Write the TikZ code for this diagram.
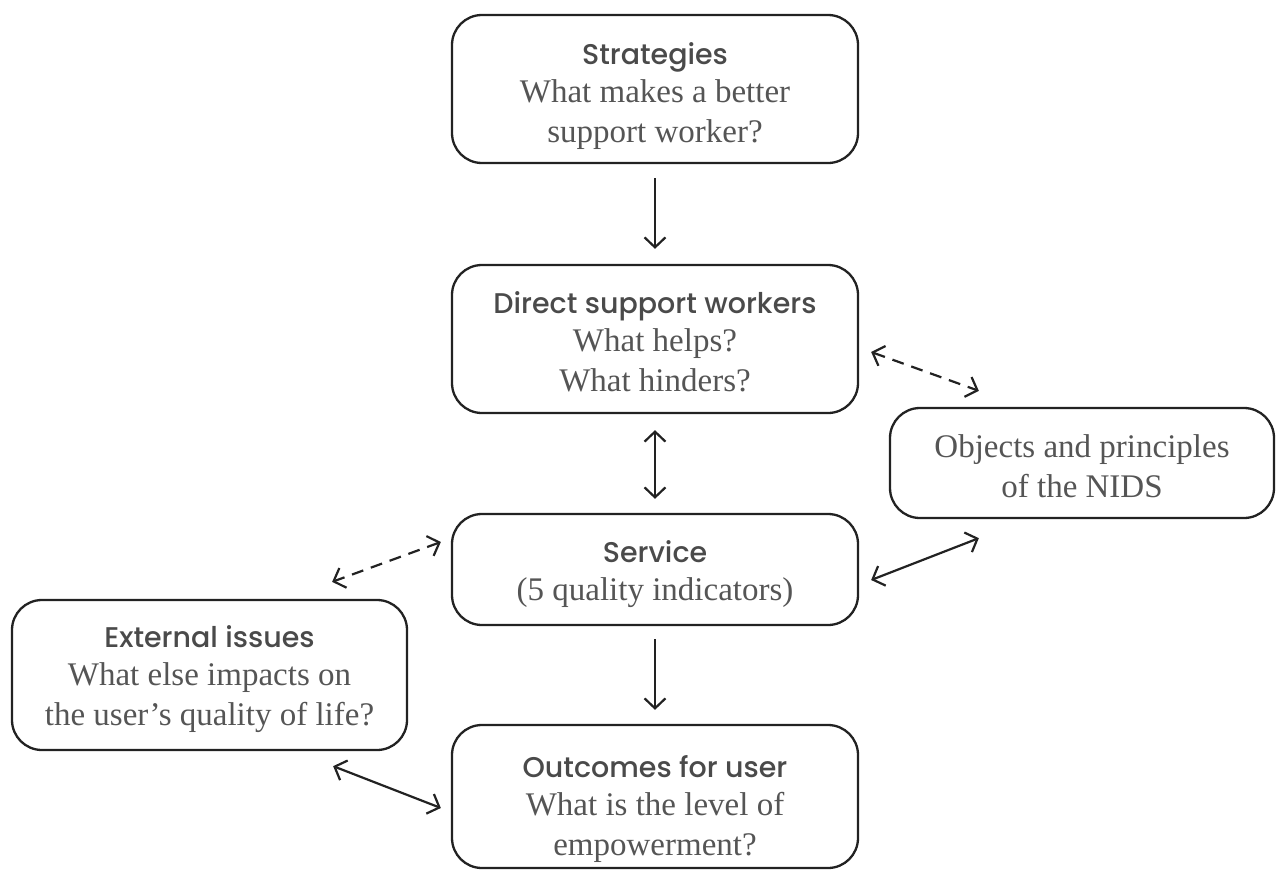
\documentclass[tikz,border=0pt]{standalone}
\usepackage{fontspec}
\setmainfont{Liberation Serif}
\newfontfamily\headfont{Poppins Medium}
\usetikzlibrary{arrows.meta,calc}
\definecolor{linecol}{HTML}{222222}
\definecolor{textcol}{HTML}{555555}
\definecolor{headcol}{HTML}{4A4A4A}
\tikzset{
  box/.style={draw=linecol, line width=2.3pt, rounded corners=30pt, inner sep=0pt},
  boxtext/.style={align=center, text=textcol, inner sep=0pt, anchor=north,
    font=\fontsize{33}{40}\selectfont},
  conn/.style={draw=linecol, line width=2.2pt,
    arrows={Straight Barb[length=10pt,width=21pt,line width=2.2pt]-Straight Barb[length=10pt,width=21pt,line width=2.2pt]}},
  oneway/.style={draw=linecol, line width=2.2pt,
    arrows={-Straight Barb[length=10pt,width=21pt,line width=2.2pt]}},
  dashconn/.style={conn, dash pattern=on 12pt off 8pt},
}
% heading line: the strut fixes the distance from the top of the text to its baseline
\newcommand{\hd}[1]{{\headfont\fontsize{28.5}{40}\selectfont\color{headcol}\rule{0pt}{24pt}#1}}
\begin{document}
\begin{tikzpicture}[x=1pt,y=-1pt]
\useasboundingbox (0,0) rectangle (1277,870);

% boxes
\node[box, minimum width=406pt, minimum height=148pt] (strat) at (655,89) {};
\node[box, minimum width=406pt, minimum height=148pt] (direct) at (655,339) {};
\node[box, minimum width=384pt, minimum height=110pt] (objects) at (1082,463) {};
\node[box, minimum width=406pt, minimum height=111pt] (service) at (655,569.5) {};
\node[box, minimum width=395pt, minimum height=150pt] (external) at (209.5,675) {};
\node[box, minimum width=406pt, minimum height=143pt] (outcomes) at (655,796.5) {};

% texts
\node[boxtext] (strat-text) at ($(strat.north)+(0,26)$)
  {\hd{Strategies}\\[-2pt]What makes a better\\support worker?};
\node[boxtext] (direct-text) at ($(direct.north)+(0,25)$)
  {\hd{Direct support workers}\\[-2pt]What helps?\\What hinders?};
\node[boxtext] (objects-text) at ($(objects.north)+(0,20)$)
  {\rule{0pt}{30pt}Objects and principles\\of the NIDS};
\node[boxtext] (service-text) at ($(service.north)+(0,25)$)
  {\hd{Service}\\[-2pt](5 quality indicators)};
\node[boxtext] (external-text) at ($(external.north)+(0,24)$)
  {\hd{External issues}\\[-2pt]What else impacts on\\the user’s quality of life?};
\node[boxtext] (outcomes-text) at ($(outcomes.north)+(0,29)$)
  {\hd{Outcomes for user}\\[-2pt]What is the level of\\empowerment?};

% vertical flow
\draw[oneway, shorten <=14pt, shorten >=15pt] (strat) -- (direct);
\draw[conn, shorten <=16pt, shorten >=14pt] (direct) -- (service);
\draw[oneway, shorten <=13pt, shorten >=14pt] (service) -- (outcomes);

% side links
\draw[dashconn] ($(direct.east)+(12,13)$) -- ($(objects.north west)+(90,-16)$);
\draw[conn] ($(service.east)+(12,10.5)$) -- ($(objects.south west)+(90,19)$);
\draw[dashconn] ($(service.west)+(-10,-27.5)$) -- ($(external.north east)+(-76,-17)$);
\draw[conn] ($(external.south east)+(-75,15)$) -- ($(outcomes.west)+(-10,11.5)$);
\end{tikzpicture}
\end{document}
